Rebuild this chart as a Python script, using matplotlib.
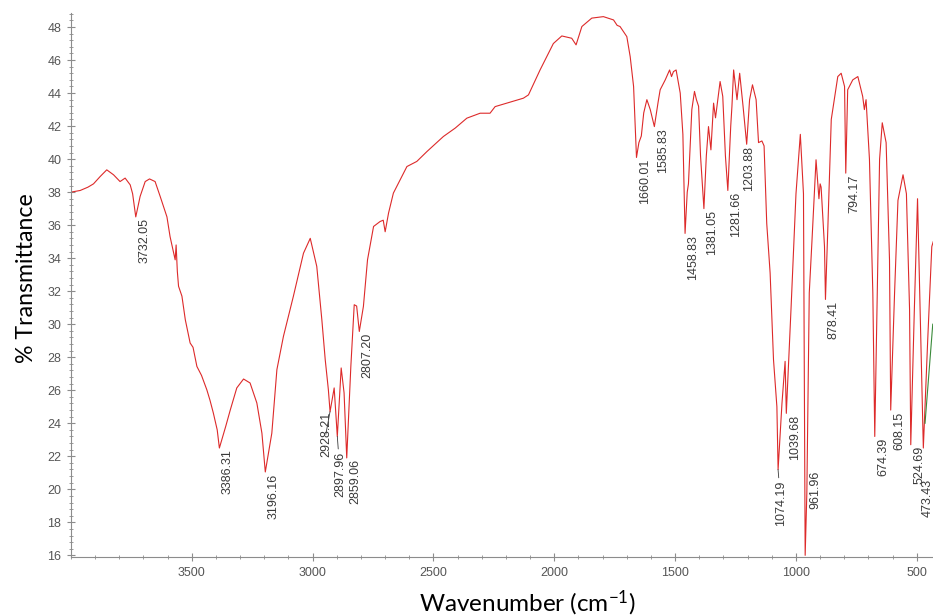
"""
Espectro FTIR: % transmitancia frente a número de onda.
"""

import matplotlib.pyplot as plt
from matplotlib.ticker import MultipleLocator

# Espectro (número de onda en cm-1, transmitancia en %)
wavenumber = [
    4000, 3962, 3930, 3907, 3879, 3852, 3838, 3824, 3797, 3776, 3755, 3745,
    3732, 3714, 3693, 3675, 3652, 3631, 3603, 3590, 3569, 3565, 3560, 3555,
    3541, 3527, 3507, 3495, 3479, 3460, 3438, 3425, 3411, 3395, 3386, 3360,
    3341, 3314, 3286, 3259, 3231, 3210, 3196, 3169, 3148, 3121, 3080, 3038,
    3010, 2983, 2962, 2948, 2935, 2928, 2911, 2898, 2882, 2870, 2859, 2842,
    2828, 2818, 2807, 2790, 2773, 2748, 2721, 2708, 2700, 2686, 2666, 2638,
    2610, 2569, 2527, 2459, 2410, 2362, 2307, 2266, 2245, 2197, 2128, 2107,
    2059, 2004, 1969, 1928, 1910, 1886, 1845, 1797, 1755, 1740, 1728, 1700,
    1686, 1672, 1664, 1660, 1650, 1640, 1630, 1617, 1603, 1586, 1570, 1562,
    1541, 1523, 1515, 1507, 1496, 1479, 1468, 1459, 1450, 1445, 1431, 1420,
    1412, 1403, 1395, 1381, 1371, 1362, 1352, 1341, 1333, 1327, 1314, 1303,
    1292, 1282, 1270, 1265, 1258, 1244, 1233, 1219, 1210, 1204, 1192, 1180,
    1165, 1155, 1141, 1132, 1121, 1107, 1093, 1079, 1074, 1058, 1045, 1040,
    1020, 1000, 982, 969, 964, 962, 955, 945, 934, 917, 905, 900, 896, 882,
    878, 868, 854, 827, 813, 799, 794, 786, 765, 744, 724, 717, 710, 696,
    682, 674, 665, 654, 643, 627, 613, 608, 592, 578, 557, 543, 530, 525,
    510, 497, 485, 473, 455, 438, 432,
]
transmittance = [
    38.0, 38.1, 38.3, 38.5, 38.95, 39.35, 39.2, 39.05, 38.64, 38.85, 38.44, 37.9,
    36.5, 37.74, 38.64, 38.8, 38.64, 37.74, 36.5, 35.3, 33.9, 34.8, 33.2, 32.3,
    31.7, 30.27, 28.86, 28.6, 27.44, 26.9, 26.03, 25.4, 24.62, 23.6, 22.5, 23.8,
    24.8, 26.14, 26.68, 26.44, 25.23, 23.4, 21.05, 23.4, 27.25, 29.26, 31.68, 34.3,
    35.2, 33.5, 30.27, 27.85, 26.03, 24.7, 26.14, 23.2, 27.35, 25.84, 21.9, 27.45,
    31.18, 31.1, 29.56, 31.08, 33.9, 35.92, 36.22, 36.3, 35.6, 36.73, 37.94, 38.75,
    39.55, 39.86, 40.46, 41.37, 41.88, 42.48, 42.78, 42.78, 43.18, 43.39, 43.69, 43.89,
    45.4, 47.0, 47.46, 47.32, 46.92, 48.03, 48.54, 48.63, 48.43, 48.1, 48.03, 47.42,
    46.2, 44.4, 41.5, 40.1, 41.0, 41.4, 42.8, 43.6, 43.0, 41.97, 43.5, 44.2,
    44.8, 45.4, 45.0, 45.3, 45.4, 44.0, 41.5, 35.5, 38.0, 38.5, 43.0, 44.1,
    43.6, 43.2, 40.2, 37.0, 40.2, 41.97, 40.56, 43.39, 42.5, 43.2, 44.7, 43.8,
    40.2, 38.1, 42.0, 43.2, 45.4, 43.6, 45.2, 43.2, 41.8, 40.9, 43.6, 44.5,
    43.6, 41.0, 41.1, 40.8, 36.1, 33.1, 27.85, 25.0, 21.2, 25.2, 27.75, 24.6,
    31.1, 37.9, 41.5, 37.9, 22.8, 16.0, 19.8, 31.9, 35.0, 39.96, 37.6, 38.5, 38.3, 34.7,
    31.5, 35.9, 42.4, 45.0, 45.2, 44.4, 39.15, 44.2, 44.8, 45.0, 43.8, 43.0, 43.6, 40.0,
    31.9, 23.2, 30.9, 40.0, 42.2, 41.0, 33.9, 24.8, 31.9, 37.5, 39.05, 37.9, 30.9, 22.7,
    31.0, 37.6, 30.0, 22.5, 29.0, 34.7, 35.0,
]

# Trazo verde corto en el borde derecho
green_wn = [466, 434]
green_t = [24.0, 30.0]

# Picos etiquetados
peak_wn = [
    3732.05, 3386.31, 3196.16, 2928.21, 2897.96, 2859.06, 2807.20,
    1660.01, 1585.83, 1458.83, 1381.05, 1281.66, 1203.88, 1074.19,
    1039.68, 961.96, 878.41, 794.17, 674.39, 608.15, 524.69, 473.43,
]
peak_t = [
    36.5, 22.5, 21.05, 24.7, 23.2, 21.9, 29.56,
    40.1, 41.97, 35.5, 37.0, 38.1, 40.9, 21.2,
    24.6, 16.0, 31.5, 39.15, 23.2, 24.8, 22.7, 22.5,
]

RED = "#dd2a2a"
GRAY = "#8c8c8c"
TEXT = "#3a3a3a"


def main():
    plt.rcParams["mathtext.default"] = "regular"
    fig = plt.figure(figsize=(9.33, 6.16), dpi=100)
    ax = fig.add_axes([0.0761, 0.0958, 0.9239, 0.8831])

    ax.plot(wavenumber, transmittance, color=RED, lw=0.8)
    ax.plot(green_wn, green_t, color="#3a8a3a", lw=0.8)

    ax.set_xlim(4000, 433)
    ax.set_ylim(15.9, 48.85)

    ax.xaxis.set_minor_locator(MultipleLocator(100))
    ax.yaxis.set_minor_locator(MultipleLocator(0.4))
    ax.set_xticks([3500, 3000, 2500, 2000, 1500, 1000, 500])
    ax.set_yticks(range(16, 49, 2))

    for side in ["top", "right"]:
        ax.spines[side].set_visible(False)
    for side in ["left", "bottom"]:
        ax.spines[side].set_color(GRAY)
    ax.tick_params(which="major", direction="inout", length=6, color=GRAY,
                   labelcolor="#555555", labelsize=9, labelfontfamily="Liberation Sans")
    ax.tick_params(which="minor", direction="inout", length=3, color=GRAY)
    ax.tick_params(axis="x", pad=4)
    ax.tick_params(axis="y", pad=4)

    # Etiquetas de pico, giradas como en el software del espectrómetro
    special = {
        2928.21: (-3, 0),
        2897.96: (2, -11),
        1074.19: (2, -8),
        961.96: (7, 61),
        1203.88: (2, -1),
        473.43: (3.5, -22),
    }
    lined = {2928.21, 2897.96, 1074.19}
    for wn, t in zip(peak_wn, peak_t):
        dx, dy = special.get(wn, (6, -1))
        arrow = dict(arrowstyle="-", color=TEXT, lw=0.6, shrinkA=0, shrinkB=0) if wn in lined else None
        ax.annotate(f"{wn:.2f}", xy=(wn, t), xytext=(dx, dy), textcoords="offset points",
                    rotation=90, ha="center", va="top", fontsize=9, color=TEXT,
                    family="Liberation Sans", arrowprops=arrow, annotation_clip=False)

    fig.text(27 / 933, 1 - 278 / 616, "% Transmittance", rotation=90,
             ha="center", va="center", fontsize=16.7, family="Lato", color="black")
    fig.text(527 / 933, 1 - 603 / 616, "Wavenumber (cm$^{-1}$)",
             ha="center", va="center", fontsize=17.5, family="Lato", color="black")

    fig.savefig("out.png", dpi=100)
    plt.close(fig)


if __name__ == "__main__":
    main()
